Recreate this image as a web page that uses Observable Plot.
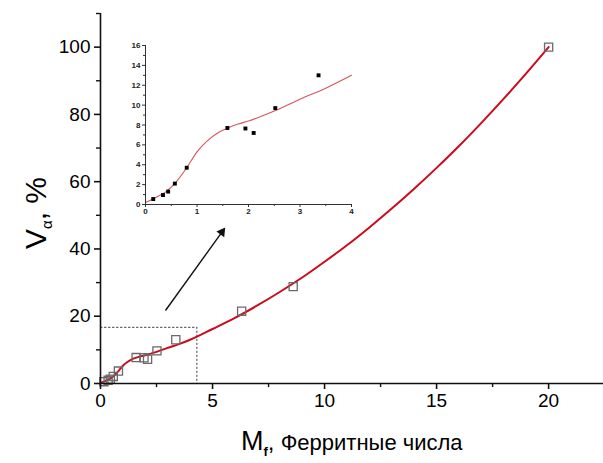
<!DOCTYPE html>
<html><head><meta charset="utf-8">
<script src="https://cdn.jsdelivr.net/npm/d3@7"></script>
<script src="https://cdn.jsdelivr.net/npm/@observablehq/plot@0.6"></script>
<style>
html,body{margin:0;padding:0;background:#fff;}
#wrap{position:relative;width:603px;height:463px;}
#inset{position:absolute;left:115px;top:35px;}
</style></head><body><div id="wrap"><div id="main"></div><div id="inset"></div></div>
<script>
// measured points (Mf, Vα %)
const mfPoints = [0.15,0.34,0.44,0.57,0.80,1.59,1.94,2.10,2.52,3.36,6.3,8.6,20];
const vaPoints = [0.55,0.95,1.3,2.1,3.7,7.7,7.65,7.2,9.7,13.0,21.5,28.8,100];
// fitted curve
const fitX = [0,0.2,0.4,0.6,0.8,1.0,1.2,1.4,1.6,1.8,2.0,2.5,3.0,3.5,4.0,5,6,7,8,9,10,11,12,13,14,15,16,17,18,19,20];
const fitY = [0.2,0.7,1.3,2.3,3.7,5.3,6.4,7.2,7.7,8.1,8.4,9.4,10.6,11.7,13.0,16.2,19.5,23.2,27.2,31.5,36.2,41.1,46.4,52.0,57.9,64.1,70.6,77.5,84.7,92.2,100];
// ticks
const xMajor = [0,5,10,15,20];
const xMinor = [2.5,7.5,12.5,17.5];
const yMajor = [0,20,40,60,80,100];
const yMinor = [10,30,50,70,90,110];
const insetXMajor = [0,1,2,3,4];
const insetXMinor = [0.5,1.5,2.5,3.5];
const insetYMajor = [0,2,4,6,8,10,12,14,16];
const insetYMinor = [1,3,5,7,9,11,13,15];
// zoom box and arrow (data units)
const boxX = [0,4.3,4.3];
const boxY = [16.7,16.7,0];
const arrowFrom = [2.9,21.7];
const arrowTo = [5.42,45.0];

const pts = mfPoints.map((x,i)=>({x, y: vaPoints[i]}));
const fit = fitX.map((x,i)=>({x, y: fitY[i]}));
const box = boxX.map((x,i)=>({x, y: boxY[i]}));
const insetPts = pts.filter(d=>d.x<4);
const insetFit = fit.filter(d=>d.x<=4);
const blank = () => "";
const plain = d => String(d);

const main = Plot.plot({
  width:603, height:463, marginLeft:100, marginRight:0, marginTop:13, marginBottom:80,
  style:{fontFamily:"'Liberation Sans', Arial, sans-serif", fontSize:"19px", color:"#000", background:"#fff"},
  x:{domain:[0,22.45], label:null},
  y:{domain:[0,110], label:null},
  marks:[
    Plot.line(box,{x:"x",y:"y",stroke:"#666",strokeWidth:1.2,strokeDasharray:"1.5,2.5"}),
    Plot.line(fit,{x:"x",y:"y",stroke:"#cc0a1e",strokeWidth:2,curve:"monotone-x"}),
    Plot.dot(pts,{x:"x",y:"y",symbol:"square",r:4.6,stroke:"#6a6a6a",strokeWidth:1.3,fill:"none"}),
    Plot.link([0],{x1:arrowFrom[0],y1:arrowFrom[1],x2:arrowTo[0],y2:arrowTo[1],stroke:"#111",strokeWidth:1.4}),
    Plot.dot([0],{x:arrowTo[0],y:arrowTo[1],symbol:"triangle",r:3.6,rotate:36,fill:"#111",stroke:"none"}),
    Plot.ruleY([0],{stroke:"#111",strokeWidth:1.6}),
    Plot.ruleX([0],{stroke:"#111",strokeWidth:1.6}),
    Plot.axisX({ticks:xMajor,tickSize:6,tickPadding:4,strokeWidth:1.6,stroke:"#111",tickFormat:plain}),
    Plot.axisX({ticks:xMinor,tickSize:4,tickFormat:blank,strokeWidth:1.4,stroke:"#111"}),
    Plot.axisY({ticks:yMajor,tickSize:6,tickPadding:4,strokeWidth:1.6,stroke:"#111",tickFormat:plain}),
    Plot.axisY({ticks:yMinor,tickSize:4,tickFormat:blank,strokeWidth:1.4,stroke:"#111"})
  ]
});
document.getElementById("main").appendChild(main);

const svg = d3.select(main);
const yl = svg.append("text")
  .attr("transform","translate(46,213) rotate(-90)")
  .attr("text-anchor","middle")
  .attr("font-family","'Liberation Sans', Arial, sans-serif")
  .attr("fill","#000");
yl.append("tspan").attr("font-size","30px").text("V");
yl.append("tspan").attr("font-size","15px").attr("dy","6").text("α");
yl.append("tspan").attr("font-size","30px").attr("dy","-6").text(", %");

const xl = svg.append("text")
  .attr("x",241).attr("y",450)
  .attr("text-anchor","start")
  .attr("font-family","'Liberation Sans', Arial, sans-serif")
  .attr("fill","#000");
xl.append("tspan").attr("font-size","27px").text("M");
xl.append("tspan").attr("font-size","13px").attr("font-weight","bold").attr("dy","6").text("f");
xl.append("tspan").attr("font-size","24px").attr("dy","-6").text(",");
xl.append("tspan").attr("font-size","22px").text(" Ферритные числа");

const inset = Plot.plot({
  width:246, height:185, marginLeft:30, marginRight:10, marginTop:10, marginBottom:16,
  style:{fontFamily:"'Liberation Sans', Arial, sans-serif", fontSize:"8px", fontWeight:"bold", color:"#222", background:"transparent"},
  x:{domain:[0,4], label:null},
  y:{domain:[0,16], label:null},
  marks:[
    Plot.line(insetFit,{x:"x",y:"y",stroke:"#d9545c",strokeWidth:1.1,curve:"monotone-x"}),
    Plot.dot(insetPts,{x:"x",y:"y",symbol:"square",r:2.2,fill:"#000",stroke:"none"}),
    Plot.ruleY([0],{stroke:"#333",strokeWidth:1}),
    Plot.ruleX([0],{stroke:"#333",strokeWidth:1}),
    Plot.axisX({ticks:insetXMajor,tickSize:3,tickPadding:1,stroke:"#333",tickFormat:plain}),
    Plot.axisX({ticks:insetXMinor,tickSize:2,tickFormat:blank,stroke:"#333"}),
    Plot.axisY({ticks:insetYMajor,tickSize:3,tickPadding:2,stroke:"#333",tickFormat:plain}),
    Plot.axisY({ticks:insetYMinor,tickSize:2,tickFormat:blank,stroke:"#333"})
  ]
});
document.getElementById("inset").appendChild(inset);
</script>
</body></html>
